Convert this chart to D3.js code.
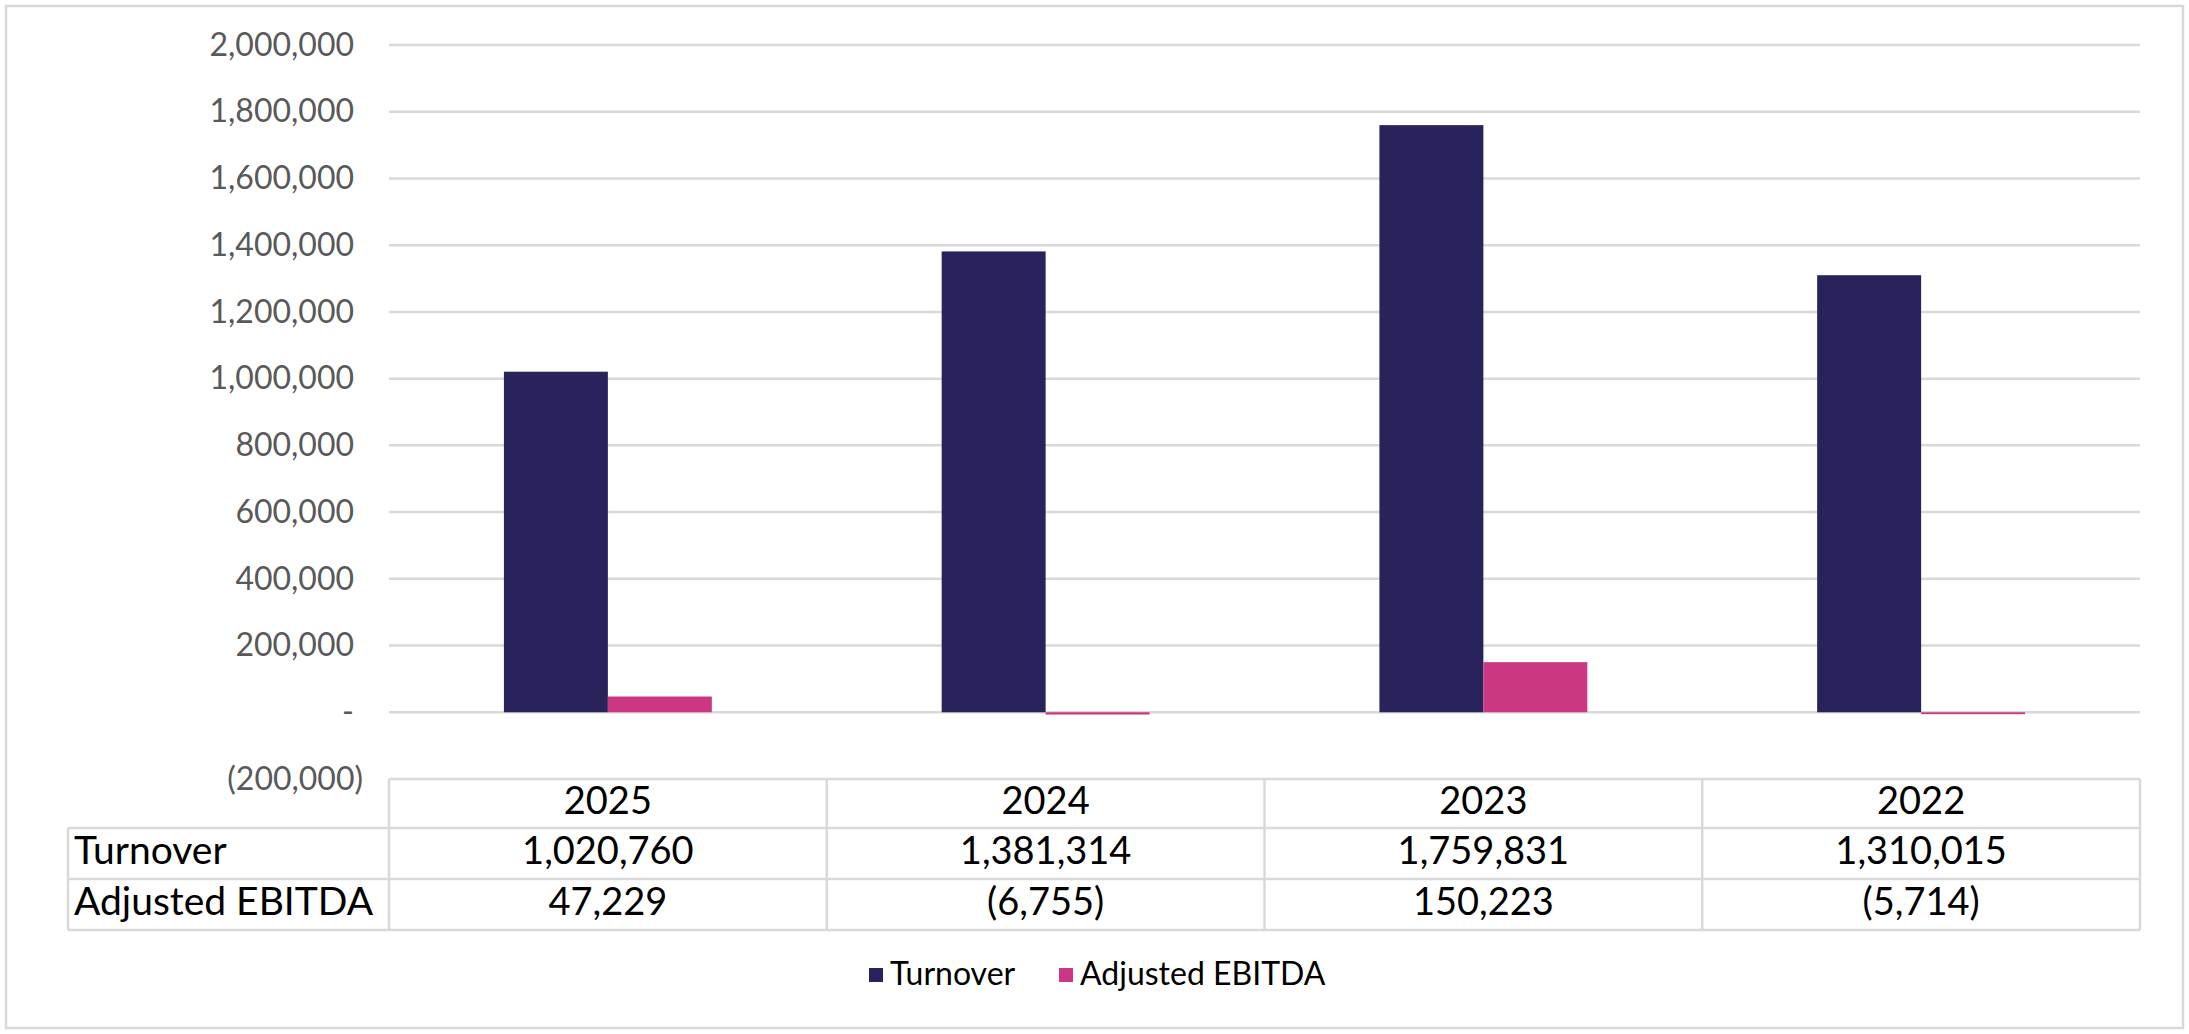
<!DOCTYPE html>
<html>
<head>
<meta charset="utf-8">
<script src="https://cdn.jsdelivr.net/npm/d3@7"></script>
<style>
  html, body { margin: 0; padding: 0; background: #fff; }
  svg { display: block; font-family: Lato, "Open Sans", sans-serif; }
</style>
</head>
<body>
<div id="chart"></div>
<script>
var categories = ['2025', '2024', '2023', '2022'];
var seriesNames = ['Turnover', 'Adjusted EBITDA'];
var turnover = [1020760, 1381314, 1759831, 1310015];
var ebitda = [47229, -6755, 150223, -5714];
var yTicks = [-200000, 0, 200000, 400000, 600000, 800000, 1000000, 1200000, 1400000, 1600000, 1800000, 2000000];
var colors = ['#28235b', '#cc3784'];

var W = 2189, H = 1034;
var plotLeft = 389, plotRight = 2140, plotTop = 45, plotBottom = 779;
var rowH = [49, 51, 51];
var labelLeft = 68;
var gridColor = '#d9d9d9';

var series = [turnover, ebitda];

var svg = d3.select('#chart').append('svg')
            .attr('width', W)
            .attr('height', H);

svg.append('rect')
   .attr('x', 6).attr('y', 6)
   .attr('width', W - 12).attr('height', H - 12)
   .attr('fill', '#fff')
   .attr('stroke', gridColor)
   .attr('stroke-width', 2.5);

var y = d3.scaleLinear()
          .domain([yTicks[0], yTicks[yTicks.length - 1]])
          .range([plotBottom, plotTop]);

var x0 = d3.scaleBand()
           .domain(categories)
           .range([plotLeft, plotRight])
           .paddingInner(0.525)
           .paddingOuter(0.2625);

var x1 = d3.scaleBand()
           .domain(seriesNames)
           .range([0, x0.bandwidth()]);

var fmt = function(v){
    if (v === 0) return '-';
    if (v < 0) return '(' + d3.format(',')(-v) + ')';
    return d3.format(',')(v);
};

// gridlines (the lowest one doubles as the table's top edge)
svg.append('g').selectAll('line')
   .data(yTicks)
   .enter()
   .append('line')
   .attr('x1', plotLeft).attr('x2', plotRight)
   .attr('y1', function(d){ return y(d); })
   .attr('y2', function(d){ return y(d); })
   .attr('stroke', gridColor)
   .attr('stroke-width', 2.5);

// y axis labels
var yAxis = d3.axisLeft(y)
              .tickValues(yTicks)
              .tickFormat(fmt)
              .tickSize(0)
              .tickPadding(35);

var axisG = svg.append('g')
               .attr('transform', 'translate(' + plotLeft + ',0)')
               .call(yAxis);
axisG.select('.domain').remove();
axisG.selectAll('text')
     .attr('fill', '#595959')
     .style('font-family', 'Lato, "Open Sans", sans-serif')
     .style('font-size', '32px')
     .attr('dx', function(d){ return d < 0 ? 9 : 0; }); // ")" hangs past the others

// bars
var groups = svg.append('g').selectAll('g')
                .data(categories)
                .enter()
                .append('g')
                .attr('transform', function(d){ return 'translate(' + x0(d) + ',0)'; });

groups.selectAll('rect')
      .data(function(d, i){
          return seriesNames.map(function(s, j){ return {name: s, value: series[j][i], color: colors[j]}; });
      })
      .enter()
      .append('rect')
      .attr('x', function(d){ return x1(d.name); })
      .attr('width', x1.bandwidth())
      .attr('y', function(d){ return y(Math.max(0, d.value)); })
      .attr('height', function(d){ return Math.abs(y(d.value) - y(0)); })
      .attr('fill', function(d){ return d.color; });

// data table
var gap = (x0.step() - x0.bandwidth()) / 2;
var cellLeft = function(c){ return x0(c) - gap; };
var tableTop = y(yTicks[0]);
var rowTops = [tableTop, tableTop + rowH[0], tableTop + rowH[0] + rowH[1]];
var tableBottom = rowTops[2] + rowH[2];

var table = svg.append('g');

[rowTops[1], rowTops[2], tableBottom].forEach(function(ly){
    table.append('line')
         .attr('x1', labelLeft).attr('x2', plotRight)
         .attr('y1', ly).attr('y2', ly)
         .attr('stroke', gridColor).attr('stroke-width', 2.5);
});

var vx = categories.map(cellLeft).concat([plotRight]);
table.selectAll('.vline')
     .data(vx)
     .enter()
     .append('line')
     .attr('class', 'vline')
     .attr('x1', function(d){ return d; }).attr('x2', function(d){ return d; })
     .attr('y1', tableTop).attr('y2', tableBottom)
     .attr('stroke', gridColor).attr('stroke-width', 2.5);
table.append('line')
     .attr('x1', labelLeft).attr('x2', labelLeft)
     .attr('y1', rowTops[1]).attr('y2', tableBottom)
     .attr('stroke', gridColor).attr('stroke-width', 2.5);

table.selectAll('.hdr')
     .data(categories)
     .enter()
     .append('text')
     .attr('class', 'hdr')
     .attr('x', function(d){ return x0(d) + x0.bandwidth() / 2; })
     .attr('y', rowTops[0] + 35)
     .attr('text-anchor', 'middle')
     .attr('font-size', 38)
     .attr('fill', '#000')
     .text(function(d){ return d; });

seriesNames.forEach(function(name, j){
    var top = rowTops[j + 1];
    table.append('text')
         .attr('x', labelLeft + 6)
         .attr('y', top + 36)
         .attr('font-size', 39)
         .attr('fill', '#000')
         .text(name);
    table.selectAll('.val' + j)
         .data(series[j])
         .enter()
         .append('text')
         .attr('class', 'val' + j)
         .attr('x', function(d, i){ return x0(categories[i]) + x0.bandwidth() / 2; })
         .attr('y', top + 36)
         .attr('text-anchor', 'middle')
         .attr('font-size', 38)
         .attr('fill', '#000')
         .text(function(d){ return fmt(d); });
});

// legend
var legendX = [869, 1059];
var legend = svg.append('g').selectAll('g')
                .data(seriesNames)
                .enter()
                .append('g')
                .attr('transform', function(d, i){ return 'translate(' + legendX[i] + ',968)'; });
legend.append('rect')
      .attr('width', 14).attr('height', 14)
      .attr('fill', function(d, i){ return colors[i]; });
legend.append('text')
      .attr('x', 21)
      .attr('y', 17)
      .attr('font-size', 32)
      .attr('fill', '#000')
      .text(function(d){ return d; });
</script>
</body>
</html>
